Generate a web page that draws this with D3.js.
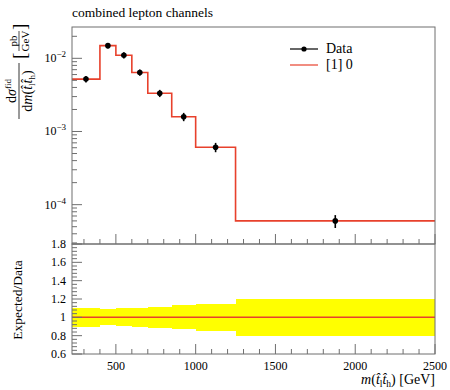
<!DOCTYPE html>
<html>
<head>
<meta charset="utf-8">
<script src="https://cdn.jsdelivr.net/npm/d3@7"></script>
<style>
  body { margin: 0; background: #fff; }
  text { font-family: "Liberation Serif", "DejaVu Serif", serif; fill: #000; }
</style>
</head>
<body>
<div id="chart"></div>
<script>
// bin edges in GeV
var binEdges = [225, 400, 500, 600, 700, 850, 1000, 1250, 2500];
// measured dsigma/dm [pb/GeV]
var dataValues = [5.2e-3, 1.49e-2, 1.10e-2, 6.4e-3, 3.33e-3, 1.59e-3, 6.1e-4, 6.0e-5];
// relative uncertainty on data
var dataRelErr = [0.10, 0.088, 0.097, 0.10, 0.113, 0.13, 0.146, 0.20];
// prediction "[1] 0"
var predValues = [5.2e-3, 1.49e-2, 1.10e-2, 6.4e-3, 3.33e-3, 1.59e-3, 6.1e-4, 6.0e-5];
var xTicks = [500, 1000, 1500, 2000, 2500];
var yTicksMain = [1e-4, 1e-3, 1e-2];
var yTickExp = ["\u22124", "\u22123", "\u22122"];
var ratioTicks = [0.6, 0.8, 1, 1.2, 1.4, 1.6, 1.8];
var ratioTickLabels = ["0.6", "0.8", "1", "1.2", "1.4", "1.6", "1.8"];

var W = 450, H = 390;
var pLeft = 72, pRight = 435, pTop = 27, pMid = 244, pBottom = 354;
var red = "#e8412c";

var svg = d3.select("#chart").append("svg")
	.attr("width", W)
	.attr("height", H);

var x = d3.scaleLinear().domain([225, 2500]).range([pLeft, pRight]);
var y = d3.scaleLog().domain([2.9e-5, 0.0268]).range([pMid, pTop]);
var yr = d3.scaleLinear().domain([0.6, 1.8]).range([pBottom, pMid]);

var bins = dataValues.map(function(v, i) {
	return {lo: binEdges[i], hi: binEdges[i + 1], v: v, p: predValues[i], e: dataRelErr[i]};
});

// title
svg.append("text")
	.attr("x", pLeft).attr("y", 17)
	.style("font-size", "13.5px")
	.text("combined lepton channels");

// ---- ratio band
svg.append("g").selectAll("rect")
	.data(bins)
	.enter().append("rect")
	.attr("x", function(d) { return x(d.lo); })
	.attr("width", function(d) { return x(d.hi) - x(d.lo); })
	.attr("y", function(d) { return yr(1 + d.e); })
	.attr("height", function(d) { return yr(1 - d.e) - yr(1 + d.e); })
	.attr("fill", "#ffff00")
	.attr("shape-rendering", "crispEdges");

var stepPts = function(vals) {
	var pts = vals.map(function(v, i) { return [binEdges[i], v]; });
	pts.push([binEdges[binEdges.length - 1], vals[vals.length - 1]]);
	return pts;
};

var ratioLine = d3.line()
	.x(function(d) { return x(d[0]); })
	.y(function(d) { return yr(d[1]); })
	.curve(d3.curveStepAfter);

svg.append("path")
	.datum(stepPts(predValues.map(function(p, i) { return p / dataValues[i]; })))
	.attr("d", ratioLine)
	.attr("fill", "none")
	.attr("stroke", red)
	.attr("stroke-width", 1.5);

// ---- main prediction step
var mainLine = d3.line()
	.x(function(d) { return x(d[0]); })
	.y(function(d) { return y(d[1]); })
	.curve(d3.curveStepAfter);

svg.append("path")
	.datum(stepPts(predValues))
	.attr("d", mainLine)
	.attr("fill", "none")
	.attr("stroke", red)
	.attr("stroke-width", 1.6);

// data points
var pts = svg.append("g").selectAll("g")
	.data(bins)
	.enter().append("g");

pts.append("line")
	.attr("x1", function(d) { return x((d.lo + d.hi) / 2); })
	.attr("x2", function(d) { return x((d.lo + d.hi) / 2); })
	.attr("y1", function(d) { return y(d.v * (1 + d.e)); })
	.attr("y2", function(d) { return y(d.v * (1 - d.e)); })
	.attr("stroke", "#000")
	.attr("stroke-width", 1.6);

pts.append("circle")
	.attr("cx", function(d) { return x((d.lo + d.hi) / 2); })
	.attr("cy", function(d) { return y(d.v); })
	.attr("r", 2.8)
	.attr("fill", "#000");

// ---- frames
var frameCol = "#6f6f6f";
svg.append("rect")
	.attr("x", pLeft).attr("y", pTop)
	.attr("width", pRight - pLeft).attr("height", pMid - pTop)
	.attr("fill", "none").attr("stroke", frameCol).attr("stroke-width", 1);
svg.append("rect")
	.attr("x", pLeft).attr("y", pMid)
	.attr("width", pRight - pLeft).attr("height", pBottom - pMid)
	.attr("fill", "none").attr("stroke", frameCol).attr("stroke-width", 1);

// x ticks, inward, on bottom of both panels
var xMinor = d3.range(300, 2500, 100).filter(function(v) { return v % 500 != 0; });
[pMid, pBottom].forEach(function(base) {
	var g = svg.append("g");
	g.selectAll("line.maj")
		.data(xTicks)
		.enter().append("line")
		.attr("x1", function(d) { return x(d); }).attr("x2", function(d) { return x(d); })
		.attr("y1", base).attr("y2", base - 10)
		.attr("stroke", frameCol);
	g.selectAll("line.min")
		.data(xMinor)
		.enter().append("line")
		.attr("x1", function(d) { return x(d); }).attr("x2", function(d) { return x(d); })
		.attr("y1", base).attr("y2", base - 5)
		.attr("stroke", frameCol);
});

svg.append("g").selectAll("text")
	.data(xTicks)
	.enter().append("text")
	.attr("x", function(d) { return x(d); })
	.attr("y", 370)
	.attr("text-anchor", "middle")
	.style("font-size", "12px")
	.text(function(d) { return d; });

// main y ticks (log)
var yMinor = [];
[1e-5, 1e-4, 1e-3, 1e-2].forEach(function(dec) {
	for (var k = 2; k <= 9; k++) {
		var v = dec * k;
		if (v > y.domain()[0] && v < y.domain()[1]) yMinor.push(v);
	}
});
svg.append("g").selectAll("line")
	.data(yTicksMain)
	.enter().append("line")
	.attr("x1", pLeft).attr("x2", pLeft + 10)
	.attr("y1", function(d) { return y(d); }).attr("y2", function(d) { return y(d); })
	.attr("stroke", frameCol);
svg.append("g").selectAll("line")
	.data(yMinor)
	.enter().append("line")
	.attr("x1", pLeft).attr("x2", pLeft + 5)
	.attr("y1", function(d) { return y(d); }).attr("y2", function(d) { return y(d); })
	.attr("stroke", frameCol);

var yl = svg.append("g").selectAll("text")
	.data(yTicksMain)
	.enter().append("text")
	.attr("x", 66)
	.attr("y", function(d) { return y(d) + 4; })
	.attr("text-anchor", "end")
	.style("font-size", "12px");
yl.append("tspan").text("10");
yl.append("tspan")
	.attr("dy", -5)
	.style("font-size", "9px")
	.text(function(d, i) { return yTickExp[i]; });

// ratio y ticks
var rMinor = d3.range(0.64, 1.8, 0.04).filter(function(v) {
	return Math.abs(Math.round(v * 5) - v * 5) > 0.01;
});
svg.append("g").selectAll("line")
	.data(ratioTicks)
	.enter().append("line")
	.attr("x1", pLeft).attr("x2", pLeft + 10)
	.attr("y1", function(d) { return yr(d); }).attr("y2", function(d) { return yr(d); })
	.attr("stroke", frameCol);
svg.append("g").selectAll("line")
	.data(rMinor)
	.enter().append("line")
	.attr("x1", pLeft).attr("x2", pLeft + 5)
	.attr("y1", function(d) { return yr(d); }).attr("y2", function(d) { return yr(d); })
	.attr("stroke", frameCol);
svg.append("g").selectAll("text")
	.data(ratioTicks)
	.enter().append("text")
	.attr("x", 66)
	.attr("y", function(d) { return yr(d) + 4; })
	.attr("text-anchor", "end")
	.style("font-size", "12px")
	.text(function(d, i) { return ratioTickLabels[i]; });

// ---- axis labels
var hat = "t\u0302";
var xl = svg.append("text")
	.attr("x", pRight).attr("y", 384)
	.attr("text-anchor", "end")
	.style("font-size", "14px");
xl.append("tspan").style("font-style", "italic").text("m");
xl.append("tspan").text("(");
xl.append("tspan").style("font-style", "italic").text(hat);
xl.append("tspan").attr("dy", 3).style("font-size", "9.5px").text("l");
xl.append("tspan").attr("dy", -3).style("font-style", "italic").text(hat);
xl.append("tspan").attr("dy", 3).style("font-size", "9.5px").text("h");
xl.append("tspan").attr("dy", -3).text(") [GeV]");

svg.append("text")
	.attr("transform", "translate(22,300) rotate(-90)")
	.attr("text-anchor", "middle")
	.style("font-size", "13.5px")
	.text("Expected/Data");

// y label of main panel: fraction
var lab = svg.append("g").attr("transform", "translate(19,119) rotate(-90)");
lab.append("line")
	.attr("x1", 0).attr("x2", 56).attr("y1", 0).attr("y2", 0)
	.attr("stroke", "#000").attr("stroke-width", 0.8);
var num = lab.append("text")
	.attr("x", 28).attr("y", -3)
	.attr("text-anchor", "middle")
	.style("font-size", "14px");
num.append("tspan").text("d");
num.append("tspan").style("font-style", "italic").text("\u03c3");
num.append("tspan").attr("dy", -5).style("font-size", "9px").text("fid");
var den = lab.append("text")
	.attr("x", 28).attr("y", 13)
	.attr("text-anchor", "middle")
	.style("font-size", "14px");
den.append("tspan").text("d");
den.append("tspan").style("font-style", "italic").text("m");
den.append("tspan").text("(");
den.append("tspan").style("font-style", "italic").text(hat);
den.append("tspan").attr("dy", 3).style("font-size", "9px").text("l");
den.append("tspan").attr("dy", -3).style("font-style", "italic").text(hat);
den.append("tspan").attr("dy", 3).style("font-size", "9px").text("h");
den.append("tspan").attr("dy", -3).text(")");
lab.append("text")
	.attr("x", 60).attr("y", 7)
	.style("font-size", "19px")
	.text("[");
lab.append("line")
	.attr("x1", 68).attr("x2", 88).attr("y1", 0).attr("y2", 0)
	.attr("stroke", "#000").attr("stroke-width", 0.7);
lab.append("text")
	.attr("x", 78).attr("y", -2)
	.attr("text-anchor", "middle")
	.style("font-size", "11px")
	.text("pb");
lab.append("text")
	.attr("x", 78).attr("y", 10)
	.attr("text-anchor", "middle")
	.style("font-size", "11px")
	.text("GeV");
lab.append("text")
	.attr("x", 89).attr("y", 7)
	.style("font-size", "19px")
	.text("]");

// ---- legend
var lg = svg.append("g");
lg.append("line")
	.attr("x1", 290).attr("x2", 318).attr("y1", 49).attr("y2", 49)
	.attr("stroke", "#000").attr("stroke-width", 1.2);
lg.append("circle")
	.attr("cx", 304).attr("cy", 49).attr("r", 2.6).attr("fill", "#000");
lg.append("text")
	.attr("x", 326).attr("y", 53)
	.style("font-size", "14px")
	.text("Data");
lg.append("line")
	.attr("x1", 290).attr("x2", 318).attr("y1", 65).attr("y2", 65)
	.attr("stroke", red).attr("stroke-width", 1.2);
lg.append("text")
	.attr("x", 326).attr("y", 69)
	.style("font-size", "14px")
	.text("[1] 0");
</script>
</body>
</html>
